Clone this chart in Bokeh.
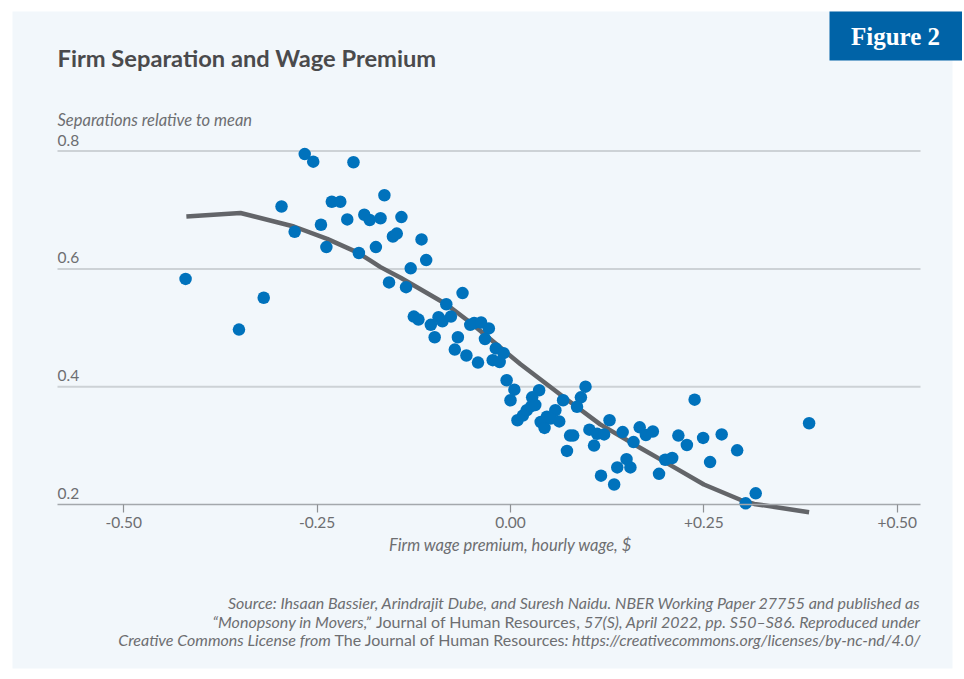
from bokeh.plotting import figure
from bokeh.models import Range1d, FixedTicker, Label, BoxAnnotation
from bokeh.core.properties import value
from bokeh.embed import file_html
from bokeh.resources import INLINE

# ---------------- data ----------------
wage_premium = [-0.420, -0.319, -0.351, -0.266, -0.255, -0.203, -0.296, -0.231, -0.220, -0.189,
                -0.182, -0.211, -0.245, -0.279, -0.238, -0.196, -0.163, -0.168, -0.141, -0.152,
                -0.147, -0.174, -0.115, -0.109, -0.129, -0.157, -0.135, -0.062, -0.083, -0.125,
                -0.119, -0.103, -0.093, -0.088, -0.077, -0.098, -0.068, -0.072, -0.057, -0.042,
                -0.052, -0.047, -0.038, -0.028, -0.033, -0.019, -0.009, -0.023, -0.014, -0.005,
                0.005, 0.000, 0.009, 0.016, 0.021, 0.027, 0.037, 0.028, 0.032, 0.039,
                0.044, 0.047, 0.058, 0.052, 0.063, 0.068, 0.097, 0.091, 0.086, 0.077,
                0.081, 0.073, 0.102, 0.112, 0.121, 0.128, 0.108, 0.145, 0.159, 0.167,
                0.175, 0.184, 0.117, 0.134, 0.138, 0.150, 0.155, 0.238, 0.217, 0.228,
                0.249, 0.273, 0.293, 0.258, 0.200, 0.209, 0.192, 0.304, 0.317, 0.386]
separations = [0.583, 0.551, 0.497, 0.795, 0.782, 0.781, 0.706, 0.714, 0.714, 0.692,
               0.683, 0.684, 0.675, 0.663, 0.637, 0.627, 0.725, 0.686, 0.688, 0.655,
               0.660, 0.637, 0.650, 0.615, 0.601, 0.577, 0.569, 0.559, 0.540, 0.519,
               0.514, 0.505, 0.518, 0.511, 0.519, 0.484, 0.484, 0.463, 0.453, 0.441,
               0.505, 0.508, 0.509, 0.499, 0.481, 0.465, 0.457, 0.445, 0.442, 0.411,
               0.395, 0.377, 0.343, 0.351, 0.360, 0.367, 0.394, 0.382, 0.369, 0.340,
               0.330, 0.349, 0.360, 0.346, 0.341, 0.377, 0.400, 0.382, 0.366, 0.317,
               0.317, 0.291, 0.327, 0.320, 0.319, 0.343, 0.300, 0.323, 0.306, 0.331,
               0.318, 0.324, 0.249, 0.234, 0.263, 0.277, 0.263, 0.378, 0.317, 0.301,
               0.313, 0.319, 0.292, 0.272, 0.276, 0.279, 0.252, 0.202, 0.219, 0.338]

fit_x = [-0.419, -0.349, -0.280, -0.237, -0.198, -0.181, -0.168, -0.142, -0.083, -0.052,
         0.013, 0.069, 0.116, 0.168, 0.200, 0.250, 0.297, 0.315, 0.386]
fit_y = [0.689, 0.695, 0.672, 0.651, 0.628, 0.614, 0.603, 0.585, 0.540, 0.509,
         0.438, 0.382, 0.336, 0.296, 0.272, 0.234, 0.208, 0.201, 0.187]

y_ticks = [0.2, 0.4, 0.6, 0.8]
y_tick_labels = ["0.2", "0.4", "0.6", "0.8"]
x_ticks = [-0.5, -0.25, 0.0, 0.25, 0.5]
x_tick_labels = ["-0.50", "-0.25", "0.00", "+0.25", "+0.50"]

title_text = "Firm Separation and Wage Premium"
y_title = "Separations relative to mean"
x_title = "Firm wage premium, hourly wage, $"
badge_text = "Figure 2"

# ---------------- style ----------------
BG = "#f2f7fb"
DOT = "#0072bc"
CURVE = "#636569"
GRID = "#cdd2d6"
AXIS = "#a4a8ac"
TXT = "#6d6e71"
TITLE = "#4a4a4c"
BADGE = "#0063a7"
FONT = "Lato"

# canvas covers the page; scale: x 0 at 510 px, 773.6 px/unit; y 0.2 at 504 px, 589 px/unit
W, H = 962, 677
XPX, X0 = 773.6, 510.0
YPX, Y02 = 589.0, 504.0


def xd(px):
    return (px - X0) / XPX


def yd(py):
    return 0.2 + (Y02 - py) / YPX


x_lo, x_hi = xd(0), xd(W)
y_lo, y_hi = yd(H), yd(0)
grid_lo, grid_hi = xd(57), xd(920)   # extent of the plotting area

p = figure(width=W, height=H, output_backend="svg", toolbar_location=None,
           x_range=Range1d(x_lo, x_hi), y_range=Range1d(y_lo, y_hi),
           y_axis_location=None,
           min_border_left=0, min_border_right=0, min_border_top=0, min_border_bottom=0)
p.background_fill_color = "white"
p.border_fill_color = "white"
p.outline_line_color = None
p.grid.visible = False


def sx(px):
    return px


def sy(py):
    return H - py


# light panel
p.add_layout(BoxAnnotation(left=sx(12), right=sx(952), top=sy(11), bottom=sy(668),
                           left_units="screen", right_units="screen",
                           top_units="screen", bottom_units="screen",
                           fill_color=BG, fill_alpha=1.0, line_color=None, level="underlay"))

xa = p.xaxis[0]
xa.fixed_location = y_ticks[0]
xa.bounds = (grid_lo, grid_hi)
xa.ticker = FixedTicker(ticks=x_ticks)
xa.major_label_overrides = dict(zip(x_ticks, x_tick_labels))
xa.axis_line_color = AXIS
xa.axis_line_width = 1.5
xa.minor_tick_line_color = None
xa.major_tick_in = 0
xa.major_tick_out = 8
xa.major_tick_line_color = "#8e9194"
xa.major_tick_line_width = 1.2
xa.major_label_standoff = 4
xa.major_label_text_font = FONT
xa.major_label_text_font_size = "15.5px"
xa.major_label_text_color = TXT

# horizontal grid lines across the plotting area
p.segment(x0=[grid_lo] * 3, x1=[grid_hi] * 3, y0=y_ticks[1:], y1=y_ticks[1:],
          line_color=GRID, line_width=2)

# y tick labels sitting above the grid lines
p.text(x=[grid_lo] * len(y_ticks), y=y_ticks, text=y_tick_labels,
       text_font=value(FONT), text_font_size="15.5px", text_color=TXT,
       text_align="left", text_baseline="alphabetic", y_offset=-11)

p.line(fit_x, fit_y, line_color=CURVE, line_width=4.5, line_join="round", line_cap="butt")
p.scatter(wage_premium, separations, size=12.5, fill_color=DOT, line_color=None)


def lab(text, px, py, **kw):
    opts = dict(text_font=FONT, text_font_size="16px", text_color=TXT,
                text_baseline="alphabetic")
    opts.update(kw)
    p.add_layout(Label(x=sx(px), y=sy(py), x_units="screen", y_units="screen",
                       text=text, **opts))


lab(title_text, 57, 57.5, text_font_size="23.7px", text_font_style="bold", text_color=TITLE)
lab(y_title, 57, 119, text_font_size="16.5px", text_font_style="italic")

p.add_layout(Label(x=0, x_units="data", y=sy(544), y_units="screen", text=x_title,
                   text_align="center", text_baseline="alphabetic", text_font=FONT,
                   text_font_size="16.5px", text_font_style="italic", text_color=TXT))

# badge
p.add_layout(BoxAnnotation(left=sx(829), right=sx(W), top=sy(11), bottom=sy(60),
                           left_units="screen", right_units="screen",
                           top_units="screen", bottom_units="screen",
                           fill_color=BADGE, fill_alpha=1.0, line_color=None))
p.add_layout(Label(x=sx(895), y=sy(35.5), x_units="screen", y_units="screen", text=badge_text,
                   text_align="center", text_baseline="alphabetic",
                   text_font="Liberation Serif", text_font_style="bold",
                   text_font_size="25px", text_color="white"))

# source note (segments chained from the right edge)
R = 920
lab("Source: Ihsaan Bassier, Arindrajit Dube, and Suresh Naidu. NBER Working Paper 27755 and published as",
    R, 602, text_align="right", text_font_style="italic")
lab(", 57(S), April 2022, pp. S50\u2013S86. Reproduced under", R, 620.5,
    text_align="right", text_font_style="italic")
lab("Journal of Human Resources", 575.5, 620.5, text_align="right")
lab("\u201cMonopsony in Movers,\u201d", 371, 620.5, text_align="right", text_font_style="italic")
lab(": https://creativecommons.org/licenses/by-nc-nd/4.0/", R, 639,
    text_align="right", text_font_style="italic")
lab("The Journal of Human Resources", 564.8, 639, text_align="right")
lab("Creative Commons License from", 330.4, 639, text_align="right", text_font_style="italic")

open("out.html", "w").write(file_html(p, INLINE))
